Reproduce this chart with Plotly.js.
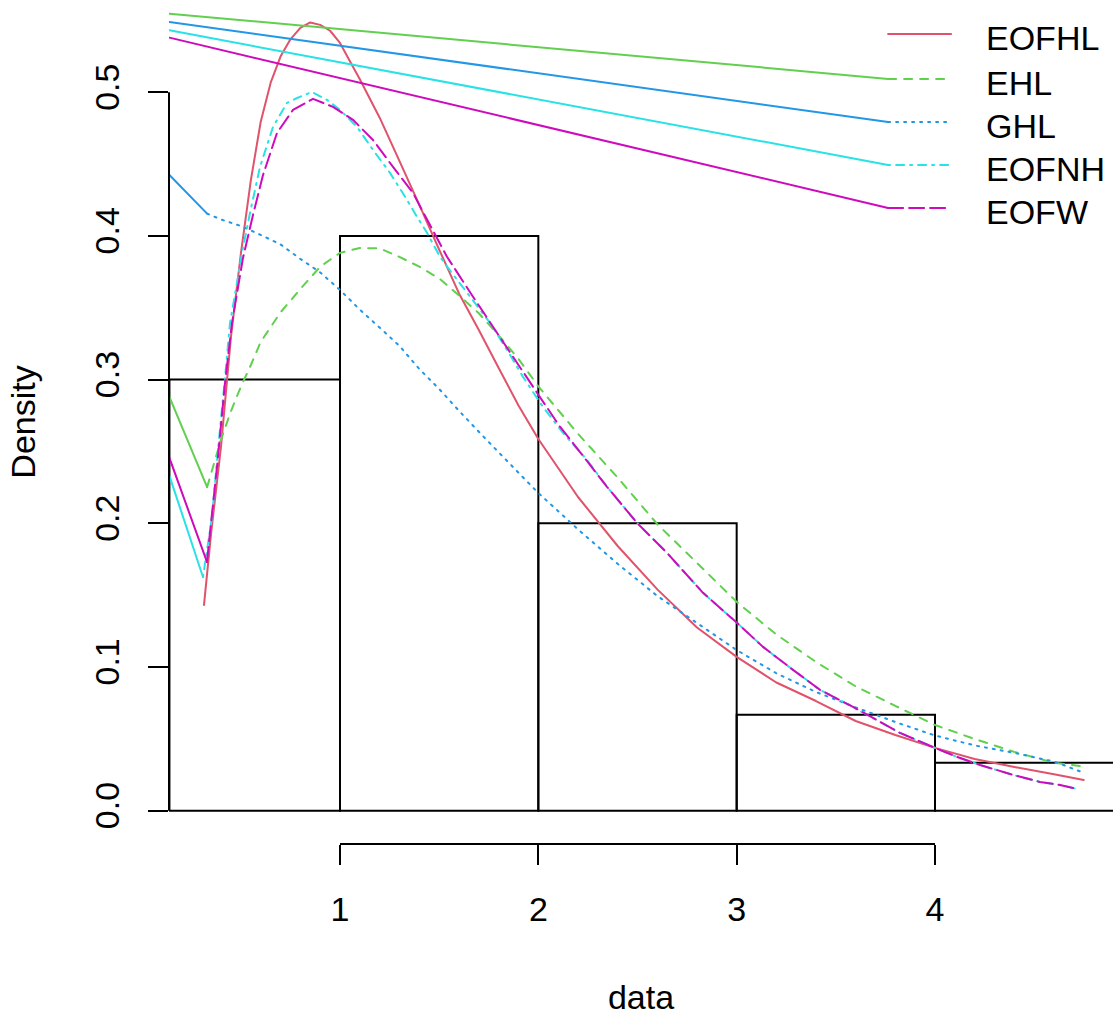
<!DOCTYPE html>
<html>
<head>
<meta charset="utf-8">
<script src="https://cdn.plot.ly/plotly-3.0.1.min.js"></script>
<style>
html, body { margin: 0; padding: 0; background: #ffffff; }
#chart { width: 1113px; height: 1018px; }
.scatterlayer .js-line { stroke-linecap: round; stroke-linejoin: round; }
</style>
</head>
<body>
<div id="chart"></div>
<script>
// ---------------- data ----------------
const histBreaks = [0.14, 1, 2, 3, 4, 5];
const histDensity = [0.3, 0.4, 0.2, 0.0667, 0.0333];

const seriesNames = ["EOFHL", "EHL", "GHL", "EOFNH", "EOFW"];
const seriesColors = ["#DF536B", "#61D04F", "#2297E6", "#28E2E5", "#CD0BBC"];
const seriesDash = ["solid", "8px,8px", "2px,6px", "2px,6px,8px,6px", "15px,6px"];

const eofhlX = [0.3143, 0.35, 0.4, 0.45, 0.5, 0.55, 0.6, 0.65, 0.7, 0.75, 0.8, 0.85, 0.9, 0.95, 1.0, 1.05, 1.1, 1.2, 1.3, 1.4, 1.5, 1.6, 1.7, 1.8, 1.9, 2.0, 2.2, 2.4, 2.6, 2.8, 3.0, 3.2, 3.4, 3.6, 3.8, 4.0, 4.2, 4.4, 4.6, 4.75];
const eofhlY = [0.1432, 0.193, 0.2533, 0.3296, 0.3875, 0.4383, 0.4793, 0.5065, 0.5248, 0.5368, 0.5448, 0.5486, 0.5469, 0.5428, 0.5343, 0.5216, 0.5091, 0.4823, 0.4520, 0.4216, 0.3905, 0.3600, 0.3345, 0.3081, 0.2820, 0.2587, 0.2183, 0.1842, 0.1540, 0.1275, 0.1070, 0.0892, 0.0763, 0.0624, 0.0527, 0.0437, 0.0360, 0.0304, 0.0253, 0.0214];

const ehlX = [0.33, 0.35, 0.4, 0.45, 0.5, 0.55, 0.6, 0.7, 0.8, 0.9, 1.0, 1.1, 1.2, 1.3, 1.4, 1.5, 1.6, 1.7, 1.8, 1.9, 2.0, 2.2, 2.4, 2.6, 2.8, 3.0, 3.2, 3.4, 3.6, 3.8, 4.0, 4.2, 4.4, 4.6, 4.73];
const ehlY = [0.2252, 0.2347, 0.2582, 0.278, 0.295, 0.310, 0.3262, 0.3468, 0.3630, 0.3786, 0.3882, 0.3916, 0.3913, 0.3854, 0.3786, 0.3704, 0.3586, 0.3462, 0.3307, 0.3144, 0.2953, 0.2623, 0.2318, 0.1994, 0.1724, 0.1453, 0.1226, 0.1035, 0.0865, 0.0729, 0.0596, 0.0499, 0.0409, 0.0333, 0.0311];

const ghlX = [0.33, 0.4, 0.5, 0.6, 0.7, 0.8, 0.9, 1.0, 1.1, 1.2, 1.3, 1.4, 1.5, 1.6, 1.7, 1.8, 1.9, 2.0, 2.2, 2.4, 2.6, 2.8, 3.0, 3.2, 3.4, 3.6, 3.8, 4.0, 4.2, 4.4, 4.6, 4.74];
const ghlY = [0.4155, 0.4115, 0.4069, 0.4007, 0.3941, 0.3840, 0.3746, 0.3624, 0.3487, 0.3362, 0.3234, 0.3074, 0.2935, 0.2783, 0.2637, 0.2494, 0.2352, 0.2211, 0.1958, 0.1718, 0.1494, 0.1306, 0.1118, 0.0956, 0.0826, 0.0719, 0.0617, 0.0523, 0.0454, 0.0402, 0.0342, 0.0269];

const eofnhX = [0.3092, 0.3546, 0.3849, 0.4202, 0.4454, 0.4807, 0.5059, 0.5462, 0.5966, 0.6622, 0.7328, 0.7832, 0.8588, 0.9345, 1.0, 1.0857, 1.1664, 1.2521, 1.3378, 1.3882, 1.4387, 1.5042, 1.5546, 1.6404, 1.7563, 1.8420, 1.9227, 2.0235, 2.1244, 2.2454, 2.3462, 2.4975, 2.6488, 2.8303, 3.0017, 3.1328, 3.2841, 3.4202, 3.5866, 3.7227, 3.8236, 4.0, 4.1110, 4.2269, 4.3934, 4.5294, 4.6302, 4.7159];
const eofnhY = [0.1626, 0.2045, 0.2511, 0.3012, 0.3395, 0.3673, 0.3882, 0.4160, 0.4480, 0.4759, 0.4926, 0.4960, 0.5002, 0.4947, 0.4877, 0.4759, 0.4599, 0.4439, 0.4251, 0.4133, 0.4022, 0.3855, 0.3760, 0.3605, 0.3395, 0.3207, 0.3019, 0.2810, 0.2629, 0.2441, 0.2254, 0.2003, 0.1794, 0.1516, 0.1307, 0.1140, 0.0980, 0.0841, 0.0722, 0.0618, 0.0541, 0.0437, 0.0374, 0.0318, 0.0249, 0.0200, 0.0179, 0.0151];

const eofwX = [0.3292, 0.3443, 0.3798, 0.4202, 0.4555, 0.5109, 0.5614, 0.6118, 0.6824, 0.7630, 0.8639, 0.9647, 1.0655, 1.1664, 1.2672, 1.3681, 1.4185, 1.5395, 1.6706, 1.7714, 1.8723, 1.9933, 2.1092, 2.2101, 2.3462, 2.4975, 2.6488, 2.8303, 3.0017, 3.1328, 3.2841, 3.4202, 3.5866, 3.7227, 3.8236, 4.0, 4.1110, 4.2269, 4.3934, 4.5294, 4.6302, 4.7159];
const eofwY = [0.1731, 0.1933, 0.2392, 0.2977, 0.3395, 0.3847, 0.4146, 0.4424, 0.4717, 0.4877, 0.4954, 0.4898, 0.4808, 0.4668, 0.4480, 0.4299, 0.4167, 0.3855, 0.3577, 0.3368, 0.3159, 0.2909, 0.2672, 0.2496, 0.2254, 0.2003, 0.1794, 0.1516, 0.1307, 0.1140, 0.0980, 0.0841, 0.0722, 0.0618, 0.0541, 0.0437, 0.0374, 0.0318, 0.0249, 0.0200, 0.0179, 0.0151];

// initial solid segments at the left edge (value at the left start), and the
// straight solid lines joining the top-left edge with the legend keys
const headStartX = 0.14;
const headStartY = [null, 0.288, 0.4424, 0.2330, 0.2455];
const connectorTopY = [null, 0.5547, 0.5489, 0.5431, 0.5380];

// legend key geometry (data units)
const legendRowY = [0.5406, 0.5093, 0.4793, 0.4494, 0.4195];
const legendKeyX = [3.7636, 4.0809];
const legendTextX = 4.247;

const xTickVals = [1, 2, 3, 4];
const xTickText = ["1", "2", "3", "4"];
const yTickVals = [0, 0.1, 0.2, 0.3, 0.4, 0.5];
const yTickText = ["0.0", "0.1", "0.2", "0.3", "0.4", "0.5"];

const xRange = [0.1378, 4.8975];
const yRange = [-0.0232, 0.5642];

// ---------------- build ----------------
const FONT = "Liberation Sans, Arial, Helvetica, sans-serif";
const FS = 34;
const seriesX = [eofhlX, ehlX, ghlX, eofnhX, eofwX];
const seriesY = [eofhlY, ehlY, ghlY, eofnhY, eofwY];

const traces = [];

// histogram
const binCenters = [], binWidths = [];
for (let i = 0; i < histDensity.length; i++) {
  binCenters.push((histBreaks[i] + histBreaks[i + 1]) / 2);
  binWidths.push(histBreaks[i + 1] - histBreaks[i]);
}
traces.push({
  type: "bar", x: binCenters, y: histDensity, width: binWidths,
  marker: { color: "rgba(0,0,0,0)", line: { color: "#000000", width: 2 } },
  hoverinfo: "skip", showlegend: false
});

// density curves
for (let s = 0; s < seriesNames.length; s++) {
  traces.push({
    type: "scatter", mode: "lines", name: seriesNames[s],
    x: seriesX[s], y: seriesY[s],
    line: { color: seriesColors[s], width: 2, dash: seriesDash[s], simplify: false },
    hoverinfo: "skip", showlegend: false
  });
}
// solid head segments
for (let s = 0; s < seriesNames.length; s++) {
  if (headStartY[s] === null) continue;
  traces.push({
    type: "scatter", mode: "lines",
    x: [headStartX, seriesX[s][0]], y: [headStartY[s], seriesY[s][0]],
    line: { color: seriesColors[s], width: 2 },
    hoverinfo: "skip", showlegend: false
  });
}
// connector lines to legend keys
for (let s = 0; s < seriesNames.length; s++) {
  if (connectorTopY[s] === null) continue;
  traces.push({
    type: "scatter", mode: "lines",
    x: [headStartX, legendKeyX[0]], y: [connectorTopY[s], legendRowY[s]],
    line: { color: seriesColors[s], width: 2 },
    hoverinfo: "skip", showlegend: false
  });
}
// legend keys
const annotations = [];
for (let s = 0; s < seriesNames.length; s++) {
  traces.push({
    type: "scatter", mode: "lines",
    x: legendKeyX, y: [legendRowY[s], legendRowY[s]],
    line: { color: seriesColors[s], width: 2, dash: seriesDash[s] },
    hoverinfo: "skip", showlegend: false
  });
  annotations.push({
    xref: "x", yref: "y", x: legendTextX, y: legendRowY[s],
    text: seriesNames[s], showarrow: false, xanchor: "left", yanchor: "middle",
    yshift: -4, font: { family: FONT, size: FS, color: "#000000" }
  });
}

const layout = {
  width: 1113, height: 1018,
  margin: { l: 169, r: 0, t: 0, b: 174, pad: 0 },
  paper_bgcolor: "#ffffff", plot_bgcolor: "#ffffff",
  showlegend: false,
  font: { family: FONT, size: FS, color: "#000000" },
  xaxis: {
    range: xRange, autorange: false, showgrid: false, zeroline: false, showline: false,
    ticks: "outside", ticklen: 20, tickwidth: 2, tickcolor: "#000000",
    tickvals: xTickVals, ticktext: xTickText, ticklabelstandoff: 15,
    tickfont: { family: FONT, size: FS, color: "#000000" },
    title: { text: "data", font: { family: FONT, size: FS, color: "#000000" }, standoff: 58 },
    automargin: false, fixedrange: true
  },
  yaxis: {
    range: yRange, autorange: false, showgrid: false, zeroline: false, showline: false,
    ticks: "outside", ticklen: 20, tickwidth: 2, tickcolor: "#000000",
    tickvals: yTickVals, ticktext: yTickText, tickangle: -90, ticklabelstandoff: 15,
    tickfont: { family: FONT, size: FS, color: "#000000" },
    title: { text: "Density", font: { family: FONT, size: FS, color: "#000000" }, standoff: 42 },
    automargin: false, fixedrange: true
  },
  shapes: [
    { type: "line", xref: "paper", yref: "y", x0: 0, x1: 0,
      y0: yTickVals[0], y1: yTickVals[yTickVals.length - 1],
      line: { color: "#000000", width: 2 }, layer: "above" },
    { type: "line", xref: "x", yref: "paper", y0: 0, y1: 0,
      x0: xTickVals[0], x1: xTickVals[xTickVals.length - 1],
      line: { color: "#000000", width: 2 }, layer: "above" }
  ],
  annotations: annotations
};

Plotly.newPlot("chart", traces, layout, { displayModeBar: false, staticPlot: true });
</script>
</body>
</html>
